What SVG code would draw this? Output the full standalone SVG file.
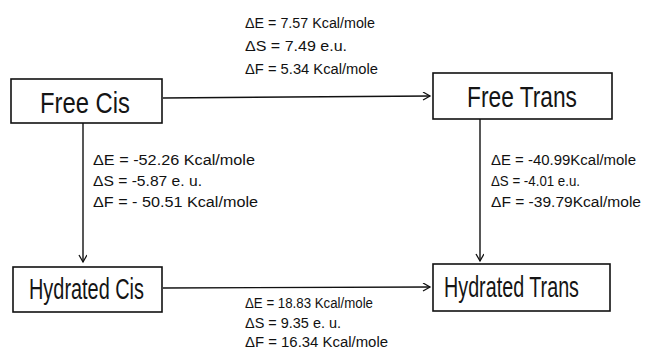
<svg xmlns="http://www.w3.org/2000/svg" width="648" height="358" viewBox="0 0 648 358">
<defs>
<style>
.box{fill:#fff;stroke:#111;stroke-width:1.6}
.node{font-family:"Liberation Sans",Arial,sans-serif;font-size:29px;fill:#151515}
.lbl{font-family:"Liberation Sans",Arial,sans-serif;font-size:14px;fill:#111}
.con{fill:none;stroke:#111;stroke-width:1.4}
</style>
<marker id="arr" markerWidth="10" markerHeight="10" refX="8" refY="4" orient="auto" markerUnits="userSpaceOnUse">
<path d="M1,0 L8,4 L1,8" fill="none" stroke="#111" stroke-width="1.3"/>
</marker>
</defs>
<rect width="648" height="358" fill="#fff"/>
<g id="connectors">
<line class="con" x1="163" y1="98" x2="430" y2="96" marker-end="url(#arr)"/>
<line class="con" x1="163" y1="288" x2="430" y2="287" marker-end="url(#arr)"/>
<line class="con" x1="83" y1="123" x2="83" y2="262" marker-end="url(#arr)"/>
<line class="con" x1="480" y1="119" x2="480" y2="261" marker-end="url(#arr)"/>
</g>
<g id="free-cis">
<rect class="box" x="11" y="79" width="151" height="44"/>
<text class="node" x="40" y="113" textLength="90" lengthAdjust="spacingAndGlyphs">Free Cis</text>
</g>
<g id="free-trans">
<rect class="box" x="433" y="73" width="179" height="46"/>
<text class="node" x="467" y="107" textLength="110" lengthAdjust="spacingAndGlyphs">Free Trans</text>
</g>
<g id="hydrated-cis">
<rect class="box" x="13" y="267" width="149" height="45"/>
<text class="node" x="29" y="299" textLength="115" lengthAdjust="spacingAndGlyphs">Hydrated Cis</text>
</g>
<g id="hydrated-trans">
<rect class="box" x="433" y="264" width="177" height="47"/>
<text class="node" x="444" y="297" textLength="135" lengthAdjust="spacingAndGlyphs">Hydrated Trans</text>
</g>
<g id="labels-top">
<text class="lbl" x="245" y="28" textLength="130" lengthAdjust="spacingAndGlyphs">ΔE = 7.57 Kcal/mole</text>
<text class="lbl" x="245" y="51" textLength="102" lengthAdjust="spacingAndGlyphs">ΔS = 7.49 e.u.</text>
<text class="lbl" x="245" y="74" textLength="133" lengthAdjust="spacingAndGlyphs">ΔF = 5.34 Kcal/mole</text>
</g>
<g id="labels-left">
<text class="lbl" x="93" y="165" textLength="162" lengthAdjust="spacingAndGlyphs">ΔE = -52.26 Kcal/mole</text>
<text class="lbl" x="93" y="186" textLength="109" lengthAdjust="spacingAndGlyphs">ΔS = -5.87 e. u.</text>
<text class="lbl" x="93" y="207" textLength="165" lengthAdjust="spacingAndGlyphs">ΔF = - 50.51 Kcal/mole</text>
</g>
<g id="labels-right">
<text class="lbl" x="491" y="165" textLength="145" lengthAdjust="spacingAndGlyphs">ΔE = -40.99Kcal/mole</text>
<text class="lbl" x="491" y="186" textLength="89" lengthAdjust="spacingAndGlyphs">ΔS = -4.01 e.u.</text>
<text class="lbl" x="491" y="207" textLength="150" lengthAdjust="spacingAndGlyphs">ΔF = -39.79Kcal/mole</text>
</g>
<g id="labels-bottom">
<text class="lbl" x="245" y="308" textLength="128" lengthAdjust="spacingAndGlyphs">ΔE = 18.83 Kcal/mole</text>
<text class="lbl" x="245" y="328" textLength="96" lengthAdjust="spacingAndGlyphs">ΔS = 9.35 e. u.</text>
<text class="lbl" x="245" y="347" textLength="143" lengthAdjust="spacingAndGlyphs">ΔF = 16.34 Kcal/mole</text>
</g>
</svg>
